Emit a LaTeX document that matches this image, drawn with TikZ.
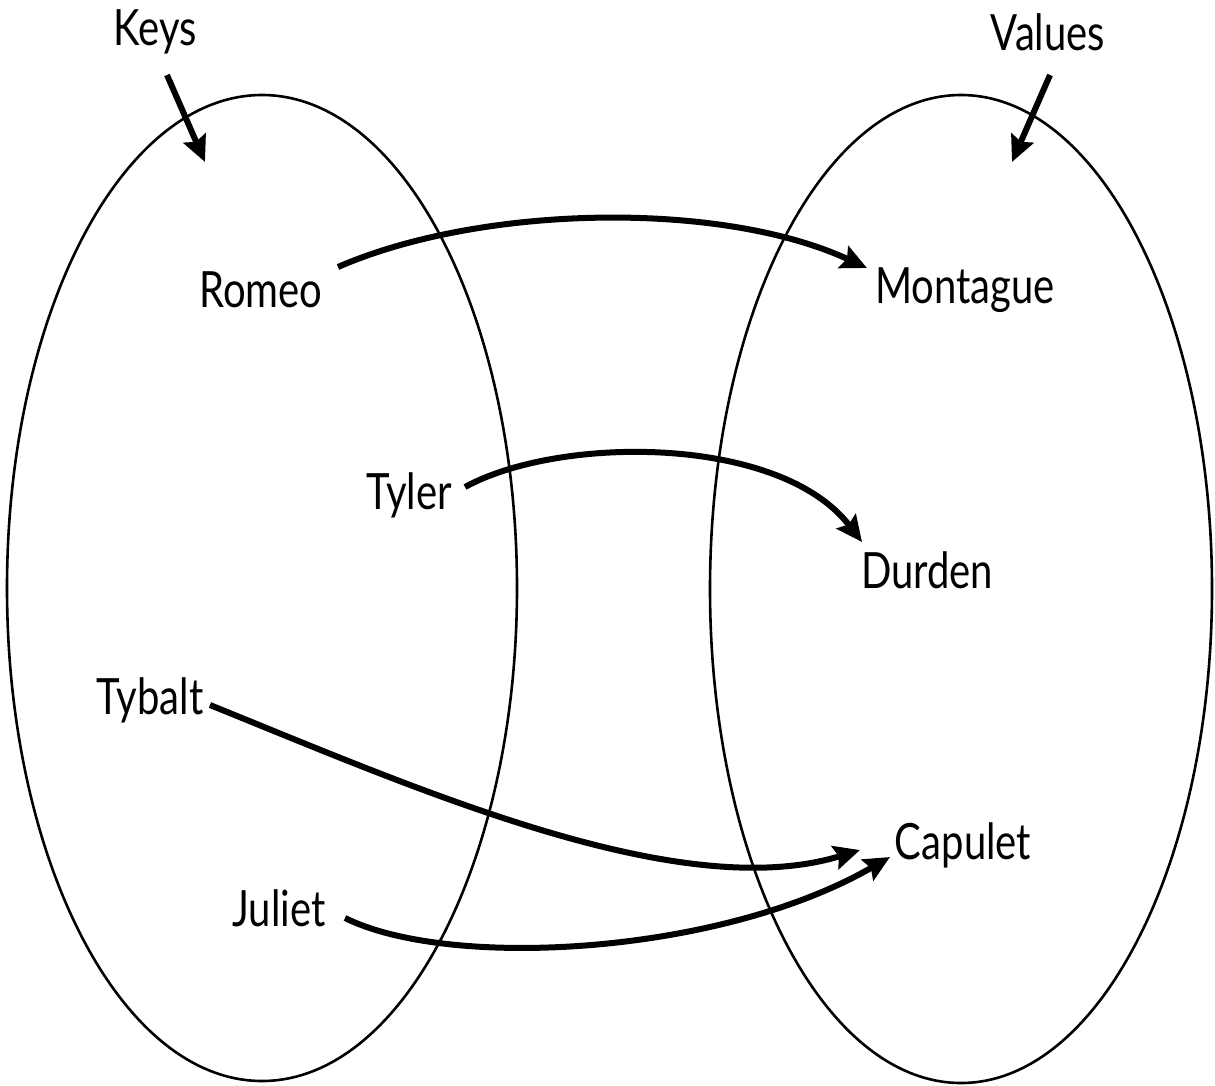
\documentclass[tikz,border=0pt]{standalone}
\usepackage{fontspec}
\setmainfont{Lato}[FakeStretch=0.8]
\usetikzlibrary{arrows.meta}
\begin{document}
\begin{tikzpicture}[x=1pt,y=-1pt,
  lbl/.style={inner sep=0pt,font=\fontsize{50}{58}\selectfont},
  set/.style={draw,line width=2.6pt},
  conn/.style={line width=6pt,-{Stealth[length=26pt,width=24pt,inset=4pt]}}]
\useasboundingbox (0,0) rectangle (1215,1085);
\draw[set] (262,588) ellipse [x radius=255, y radius=493];
\draw[set] (961,589) ellipse [x radius=251, y radius=494];
\node[lbl] (keys) at (155,32) {Keys};
\node[lbl] (values) at (1048,32) {Values};
\node[lbl] (romeo) at (261,290) {Romeo};
\node[lbl] (montague) at (965,290) {Montague};
\node[lbl] (tyler) at (409,495) {Tyler};
\node[lbl] (durden) at (927,570) {Durden};
\node[lbl] (tybalt) at (150,700) {Tybalt};
\node[lbl] (capulet) at (963,845) {Capulet};
\node[lbl] (juliet) at (279,908) {Juliet};
\coordinate (k1) at (167,75); \coordinate (k2) at (205,162);
\coordinate (v1) at (1050,75); \coordinate (v2) at (1012,162);
\coordinate (r1) at (338,267); \coordinate (r2) at (867,268);
\coordinate (t1) at (465,487); \coordinate (t2) at (862,542);
\coordinate (b1) at (210,705); \coordinate (b2) at (860,850);
\coordinate (j1) at (345,918); \coordinate (j2) at (890,857);
\draw[conn] (k1) -- (k2);
\draw[conn] (v1) -- (v2);
\draw[conn] (r1) .. controls (480,205) and (720,200) .. (r2);
\draw[conn] (t1) .. controls (560,435) and (780,435) .. (t2);
\draw[conn] (b1) .. controls (420,790) and (680,905) .. (b2);
\draw[conn] (j1) .. controls (450,970) and (720,955) .. (j2);
\end{tikzpicture}
\end{document}
